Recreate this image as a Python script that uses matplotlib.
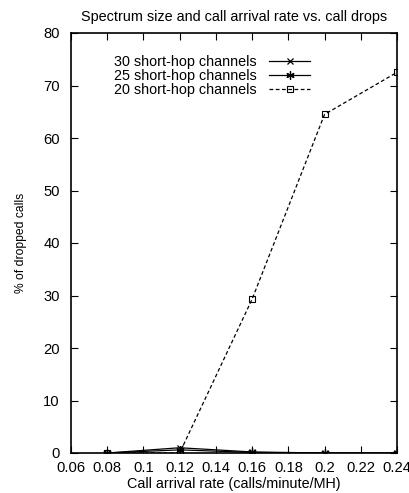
import matplotlib.pyplot as plt

plt.rcParams['font.family'] = ['Liberation Sans', 'DejaVu Sans']

# Data
arrival_rate = [0.08, 0.12, 0.16, 0.20, 0.24]
drops_30 = [0.0, 1.0, 0.2, 0.0, 0.0]
drops_25 = [0.0, 0.6, 0.1, 0.0, 0.0]
drops_20 = [0.0, 0.0, 29.3, 64.5, 72.5]

xticks = [0.06, 0.08, 0.1, 0.12, 0.14, 0.16, 0.18, 0.2, 0.22, 0.24]
xticklabels = ['0.06', '0.08', '0.1', '0.12', '0.14', '0.16', '0.18', '0.2', '0.22', '0.24']
yticks = [0, 10, 20, 30, 40, 50, 60, 70, 80]

fig = plt.figure(figsize=(4.10, 4.93), dpi=100)
ax = fig.add_axes([71 / 410, 1 - 453 / 493, (397 - 71) / 410, (453 - 33) / 493])

ax.plot(arrival_rate, drops_30, color='black', lw=0.9, marker='x', ms=5, mew=0.9,
        label='30 short-hop channels')
ax.plot(arrival_rate, drops_25, color='black', lw=0.9, marker=(6, 2, 0), ms=6, mew=0.9,
        label='25 short-hop channels')
ax.plot(arrival_rate, drops_20, color='black', lw=0.9, ls=(0, (3, 2)), marker='s', ms=5,
        mfc='none', mew=0.8, label='20 short-hop channels')

ax.set_xlim(0.06, 0.24)
ax.set_ylim(0, 80)
ax.set_xticks(xticks)
ax.set_xticklabels(xticklabels)
ax.set_yticks(yticks)
ax.tick_params(direction='in', top=True, right=True, length=5, width=0.8, labelsize=10.6)
ax.tick_params(axis='x', pad=6)
ax.tick_params(axis='y', pad=8)
for s in ax.spines.values():
    s.set_linewidth(1.2)

ax.set_xlabel('Call arrival rate (calls/minute/MH)', fontsize=10.4, labelpad=1)
ax.set_ylabel('% of dropped calls', fontsize=8.7, labelpad=12)
ax.set_title('Spectrum size and call arrival rate vs. call drops', fontsize=10.4, pad=9)

leg = ax.legend(loc='upper left', bbox_to_anchor=(0.115, 0.962), frameon=False,
                markerfirst=False, fontsize=10.4, handlelength=2.9,
                labelspacing=0.0, borderaxespad=0, handletextpad=0.8)

fig.savefig('out.png', dpi=100)
